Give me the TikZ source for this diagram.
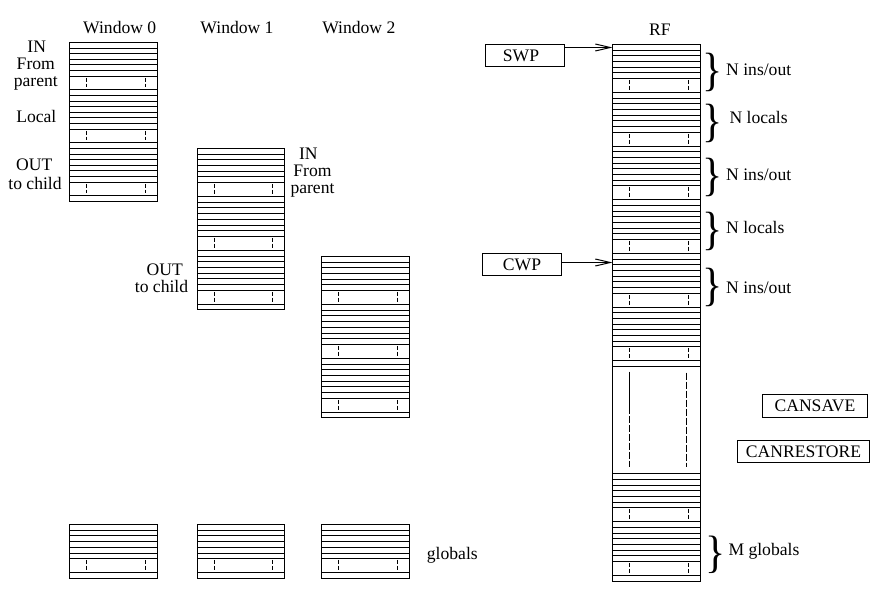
\documentclass[tikz,border=0pt]{standalone}
\usepackage{fontspec}
\usepackage{graphicx}
\setmainfont{Liberation Serif}
\usetikzlibrary{arrows.meta}
\tikzset{
  reg/.style={line width=1.2pt},
  regmark/.style={line width=1pt, dash pattern=on 4.5pt off 1.4pt},
  longdash/.style={line width=1pt, dash pattern=on 7pt off 2pt},
  lbl/.style={font=\fontsize{17.6}{17.2}\selectfont, inner sep=0pt},
  ptrbox/.style={draw, line width=1.1pt, inner sep=0pt, font=\fontsize{17.6}{17.2}\selectfont},
  ptr/.style={line width=1pt, -{Straight Barb[length=15pt,width=7pt,line width=1pt]}},
  bracenode/.style={inner sep=0pt, anchor=west},
}
\newcommand\RegGroup[4]{%
  \pgfmathsetmacro\rgS{0.1056*(#4)}%
  \pgfmathsetmacro\rgD{(#4)-7*\rgS}%
  \pgfmathsetmacro\rgY{#3}%
  \foreach \k in {1,...,6} {%
    \pgfmathsetmacro\yy{round(\rgY+\k*\rgS)+0.5}%
    \draw[reg] (#1,\yy) -- (#2,\yy);}
  \pgfmathsetmacro\ya{round(\rgY+6*\rgS)+0.5}%
  \pgfmathsetmacro\yb{round(\rgY+6*\rgS+\rgD)+0.5}%
  \pgfmathsetmacro\yc{round(\rgY+7*\rgS+\rgD)+0.5}%
  \draw[reg] (#1,\yb) -- (#2,\yb);
  \draw[reg] (#1,\yc) -- (#2,\yc);
  \draw[regmark] (#1+17,\ya+1.3) -- (#1+17,\yb-2.5);
  \draw[regmark] (#2-12,\ya+1.3) -- (#2-12,\yb-2.5);
}
\newcommand\RegStack[5]{%
  \pgfmathsetmacro\sTop{round(#3)+0.5}%
  \pgfmathsetmacro\sBot{round(#3+#4*#5)+0.5}%
  \draw[reg] (#1,\sTop) rectangle (#2,\sBot);
  \foreach \j in {1,...,#4} {\RegGroup{#1}{#2}{#3+(\j-1)*#5}{#5}}
}
\newcommand\GlyphBrace[1]{\scalebox{1}[#1]{\fontsize{42}{42}\selectfont\}}}
\begin{document}
\begin{tikzpicture}[x=1pt,y=-1pt]
\useasboundingbox (0,0) rectangle (892,604);
\fill[white] (0,0) rectangle (892,604);

% windows
\RegStack{69.5}{157.5}{42}{3}{53}
\RegStack{197.5}{284.5}{148}{3}{53.8}
\RegStack{321.5}{409.5}{256}{3}{53.8}
% globals
\RegStack{69.5}{157.5}{524}{1}{54}
\RegStack{197.5}{284.5}{524}{1}{54}
\RegStack{321.5}{409.5}{524}{1}{54}

% register file
\draw[reg] (612.5,44.5) rectangle (700.5,581.5);
\foreach \g in {0,...,5,8,9} {\RegGroup{612.5}{700.5}{44+\g*53.67}{53.67}}
\draw[reg] (612.5,473.5) -- (700.5,473.5);
\draw[reg] (629.5,371.7) -- (629.5,406.7);
\draw[longdash] (629.5,406.7) -- (629.5,467.3);
\draw[longdash] (686.5,372.7) -- (686.5,467.3);

% titles
\node[lbl, anchor=base] (t0) at (119.7,33.3) {Window 0};
\node[lbl, anchor=base] (t1) at (237,33.3) {Window 1};
\node[lbl, anchor=base] (t2) at (358.8,33.3) {Window 2};
\node[lbl, anchor=base] (trf) at (660,35.7) {RF};

% window 0 labels
\node[lbl, anchor=base] (w0in) at (36.7,52.7) {IN};
\node[lbl, anchor=base] (w0from) at (35.8,70) {From};
\node[lbl, anchor=base] (w0par) at (35.8,86.3) {parent};
\node[lbl, anchor=base] (w0loc) at (36.3,122.7) {Local};
\node[lbl, anchor=base] (w0out) at (34.3,171) {OUT};
\node[lbl, anchor=base] (w0tc) at (35,190) {to child};
% window 1 labels
\node[lbl, anchor=base] (w1in) at (308.3,159.3) {IN};
\node[lbl, anchor=base] (w1from) at (312.5,176.7) {From};
\node[lbl, anchor=base] (w1par) at (312.5,193.3) {parent};
\node[lbl, anchor=base] (w1out) at (164.7,276) {OUT};
\node[lbl, anchor=base] (w1tc) at (161.5,292.3) {to child};
% globals
\node[lbl, anchor=base west] (glob) at (426.7,559) {globals};

% pointer boxes
\node[ptrbox, minimum width=79pt, minimum height=22pt] (swp) at (525,55.5) {\hspace*{-8pt}SWP};
\node[ptrbox, minimum width=79pt, minimum height=22pt] (cwp) at (522,264.5) {CWP};
\coordinate (swpTip) at (612.5,47.5);
\coordinate (cwpTip) at (612.5,262.5);
\draw[ptr] (swp.east |- swpTip) -- (swpTip);
\draw[ptr] (cwp.east |- cwpTip) -- (cwpTip);

\node[ptrbox, minimum width=105pt, minimum height=23pt] (cansave) at (815,406) {CANSAVE};
\node[ptrbox, minimum width=132pt, minimum height=22pt] (canrest) at (803.5,451.5) {CANRESTORE};

% braces and their labels
\foreach \ym/\yb/\txt/\xl [count=\i] in {
   72.8/75.1/N ins\slash out/726,
   123.8/123.5/N locals/729.3,
   177.2/180.8/N ins\slash out/726,
   231.2/233.8/N locals/726,
   287.8/293.5/N ins\slash out/726} {
  \node[bracenode] (br\i) at (702.5,\ym) {\GlyphBrace{1.11}};
  \node[lbl, anchor=base west] (bl\i) at (\xl,\yb) {\txt};
}
\node[bracenode] (brg) at (705.5,555) {\GlyphBrace{1.08}};
\node[lbl, anchor=base west] (mglob) at (728.3,555.7) {M globals};
\end{tikzpicture}
\end{document}
